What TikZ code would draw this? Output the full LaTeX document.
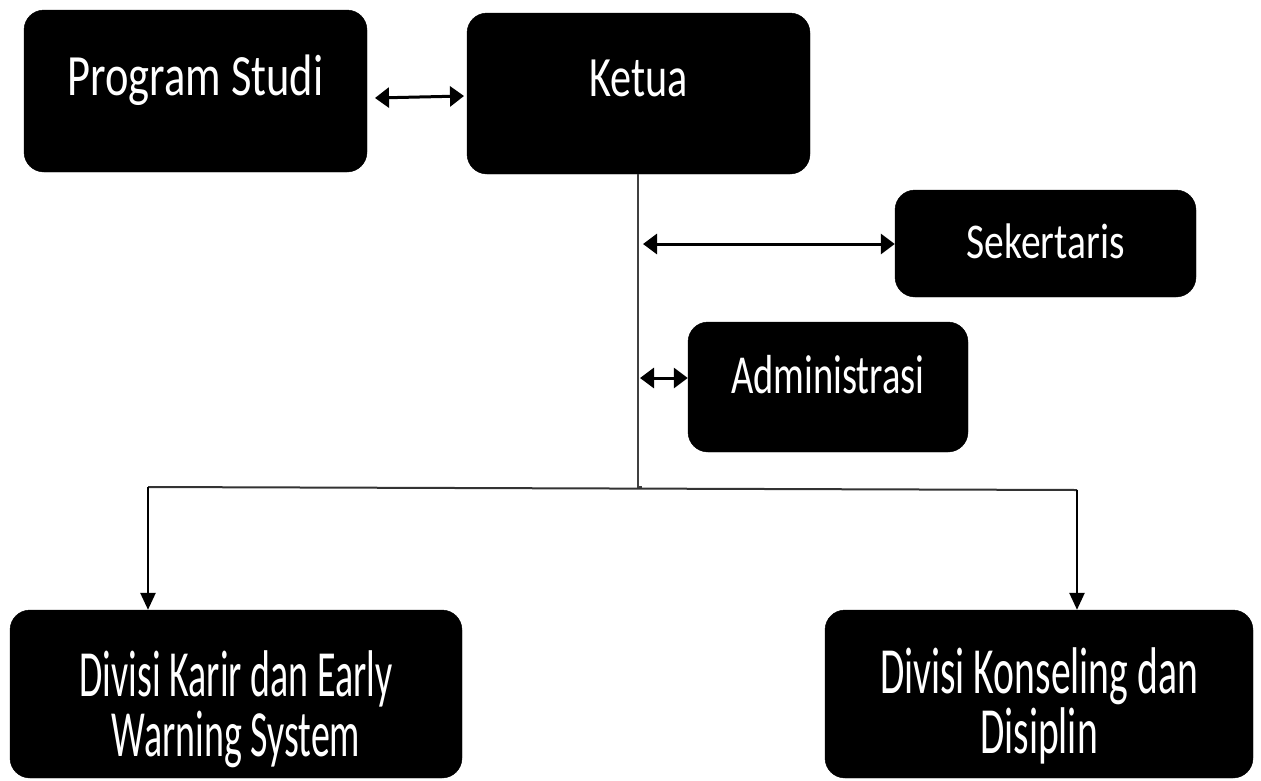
\documentclass[tikz,border=0pt]{standalone}
\usepackage{fontspec}
\setmainfont{Carlito}
\newfontfamily\fontA[FakeStretch=0.76]{Carlito}
\newfontfamily\fontB[FakeStretch=0.74]{Carlito}
\newfontfamily\fontC[FakeStretch=0.79]{Carlito}
\newfontfamily\fontD[FakeStretch=0.70]{Carlito}
\newfontfamily\fontE[FakeStretch=0.575]{Carlito}
\newfontfamily\fontF[FakeStretch=0.60]{Carlito}
\usetikzlibrary{arrows.meta}
\begin{document}
\begin{tikzpicture}[x=1pt,y=-1pt,
  box/.style={fill=black,draw=black,rounded corners=20pt,inner sep=0pt},
  lbl/.style={text=white,inner sep=0pt,align=center},
  dbl/.style={{Triangle[width=20pt,length=14pt]}-{Triangle[width=20pt,length=14pt]},line width=3pt},
  dn/.style={-{Triangle[width=15pt,length=17pt]},line width=2.5pt},
  thinln/.style={line width=1.2pt,draw=black!75},
  hline/.style={line width=2pt,draw=black!80}]
\useasboundingbox (0,0) rectangle (1261,780);
\node[box,minimum width=343pt,minimum height=162pt] (ps) at (195.5,91) {};
\node[box,minimum width=343pt,minimum height=161pt] (ket) at (638.5,93.5) {};
\node[box,minimum width=301pt,minimum height=107pt] (sek) at (1045.5,243.5) {};
\node[box,minimum width=280pt,minimum height=130pt] (adm) at (828,387) {};
\node[box,minimum width=452pt,minimum height=168pt] (dk) at (236,694) {};
\node[box,minimum width=428pt,minimum height=168pt] (dkd) at (1039,694) {};
\node[lbl,anchor=base,font=\fontA\fontsize{58.5}{60}\selectfont] (psT) at ([yshift=-4.3pt]ps.center) {Program Studi};
\node[lbl,anchor=base,font=\fontB\fontsize{57}{60}\selectfont] (ketT) at ([yshift=-3.2pt]ket.center) {Ketua};
\node[lbl,anchor=base,font=\fontC\fontsize{50}{60}\selectfont] (sekT) at ([yshift=-14.8pt]sek.center) {Sekertaris};
\node[lbl,anchor=base,font=\fontD\fontsize{55}{60}\selectfont] (admT) at ([yshift=-6pt]adm.center) {Administrasi};
\node[lbl,font=\fontE\fontsize{66}{60}\selectfont] (dkT) at ([yshift=-15.5pt]dk.center) {Divisi Karir dan Early\\Warning System};
\node[lbl,font=\fontF\fontsize{66}{60}\selectfont] (dkdT) at ([yshift=-11.5pt]dkd.center) {Divisi Konseling dan\\Disiplin};
\coordinate (vt) at (638,487);
\coordinate (hl) at (148,487);
\coordinate (hr) at (1077,490);
\coordinate (a1) at (375,98);
\coordinate (a1e) at (464,96);
\coordinate (a2) at (643,244);
\coordinate (a3) at (640,378);
\draw[thinln] (ket.south -| vt) -- (vt) -- ++(4,0);
\draw[hline] (hl) -- (hr);
\draw[dbl] (a1) -- (a1e);
\draw[dbl] (a2) -- (sek.west |- a2);
\draw[dbl] (a3) -- (adm.west |- a3);
\draw[dn] (hl) -- (dk.north -| hl);
\draw[dn] (hr) -- (dkd.north -| hr);
\end{tikzpicture}
\end{document}
